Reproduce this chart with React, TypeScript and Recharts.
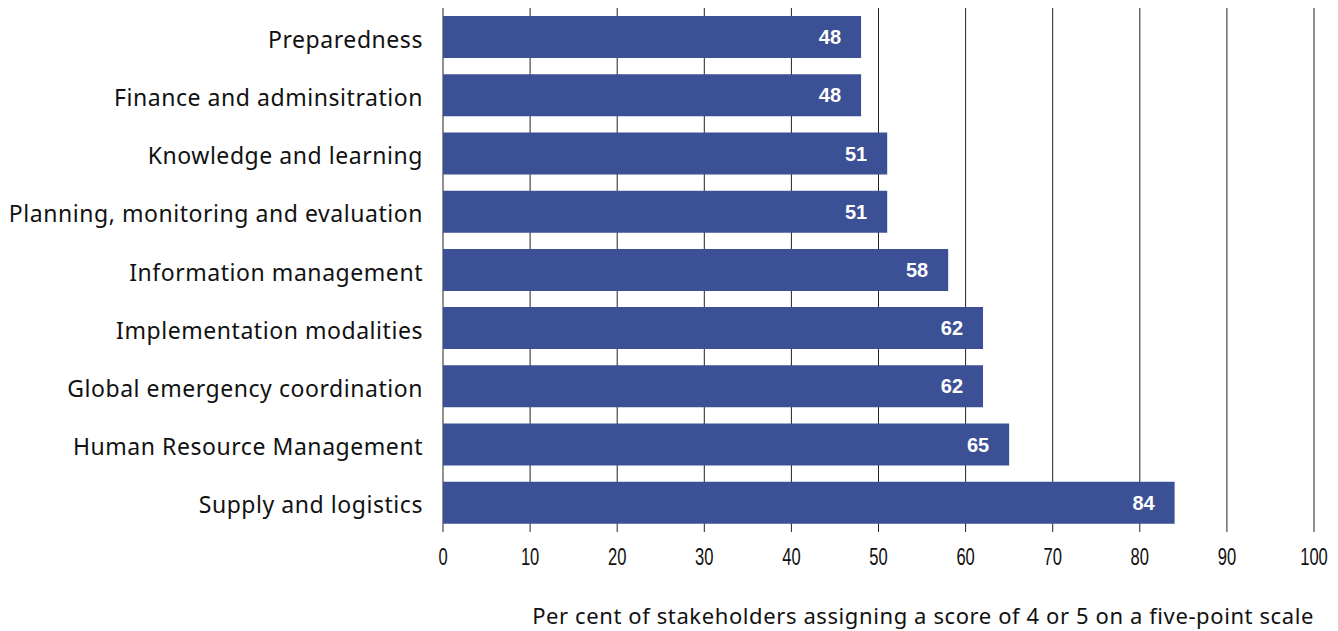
import React from "react";
import { BarChart, Bar, XAxis, YAxis, CartesianGrid, LabelList, Label } from "recharts";

const categories = [
  "Preparedness",
  "Finance and adminsitration",
  "Knowledge and learning",
  "Planning, monitoring and evaluation",
  "Information management",
  "Implementation modalities",
  "Global emergency coordination",
  "Human Resource Management",
  "Supply and logistics",
];
const values = [48, 48, 51, 51, 58, 62, 62, 65, 84];
const xTicks = [0, 10, 20, 30, 40, 50, 60, 70, 80, 90, 100];
const axisTitle = "Per cent of stakeholders assigning a score of 4 or 5 on a five-point scale";

const data = categories.map((name, i) => ({ name, value: values[i] }));

const CondensedTick = (props: any) => {
  const { x, y, payload } = props;
  return (
    <g transform={`translate(${x},${y})`}>
      <text
        transform="scale(0.72,1)"
        x={0}
        y={0}
        dy={16.5}
        textAnchor="middle"
        fill="#111"
        style={{ fontSize: 23, fontFamily: "Liberation Sans, Arial, sans-serif" }}
      >
        {payload.value}
      </text>
    </g>
  );
};

const CategoryTick = (props: any) => {
  const { x, y, payload } = props;
  return (
    <text
      x={x}
      y={y}
      dy={10.5}
      textAnchor="end"
      fill="#111"
      style={{ fontSize: 23, letterSpacing: 0.55, fontFamily: "Noto Sans, sans-serif" }}
    >
      {payload.value}
    </text>
  );
};

export default function App() {
  return (
    <div style={{ position: "absolute", left: 0, top: 0 }}>
      <BarChart
        width={1338}
        height={631}
        data={data}
        layout="vertical"
        margin={{ top: 8, right: 24, bottom: 0, left: 0 }}
        barCategoryGap={8}
      >
        <CartesianGrid horizontal={false} vertical={true} stroke="#222" strokeWidth={1} />
        <XAxis
          type="number"
          domain={[0, 100]}
          ticks={xTicks}
          interval={0}
          axisLine={false}
          tickLine={false}
          tickSize={0}
          tickMargin={16}
          height={99}
          tick={<CondensedTick />}
        >
          <Label
            value={axisTitle}
            position="insideBottomRight"
            offset={7}
            dx={7}
            style={{ fill: "#111", fontSize: 22, letterSpacing: 0.6, fontFamily: "Noto Sans, sans-serif" }}
          />
        </XAxis>
        <YAxis
          type="category"
          dataKey="name"
          width={443}
          axisLine={false}
          tickLine={false}
          tickSize={0}
          tickMargin={20}
          interval={0}
          tick={<CategoryTick />}
        />
        <Bar dataKey="value" fill="#3c5096" isAnimationActive={false}>
          <LabelList
            dataKey="value"
            position="insideRight"
            offset={20}
            style={{ fill: "#fff", fontSize: 20, fontWeight: "bold", fontFamily: "Liberation Sans, Arial, sans-serif" }}
          />
        </Bar>
      </BarChart>
    </div>
  );
}
